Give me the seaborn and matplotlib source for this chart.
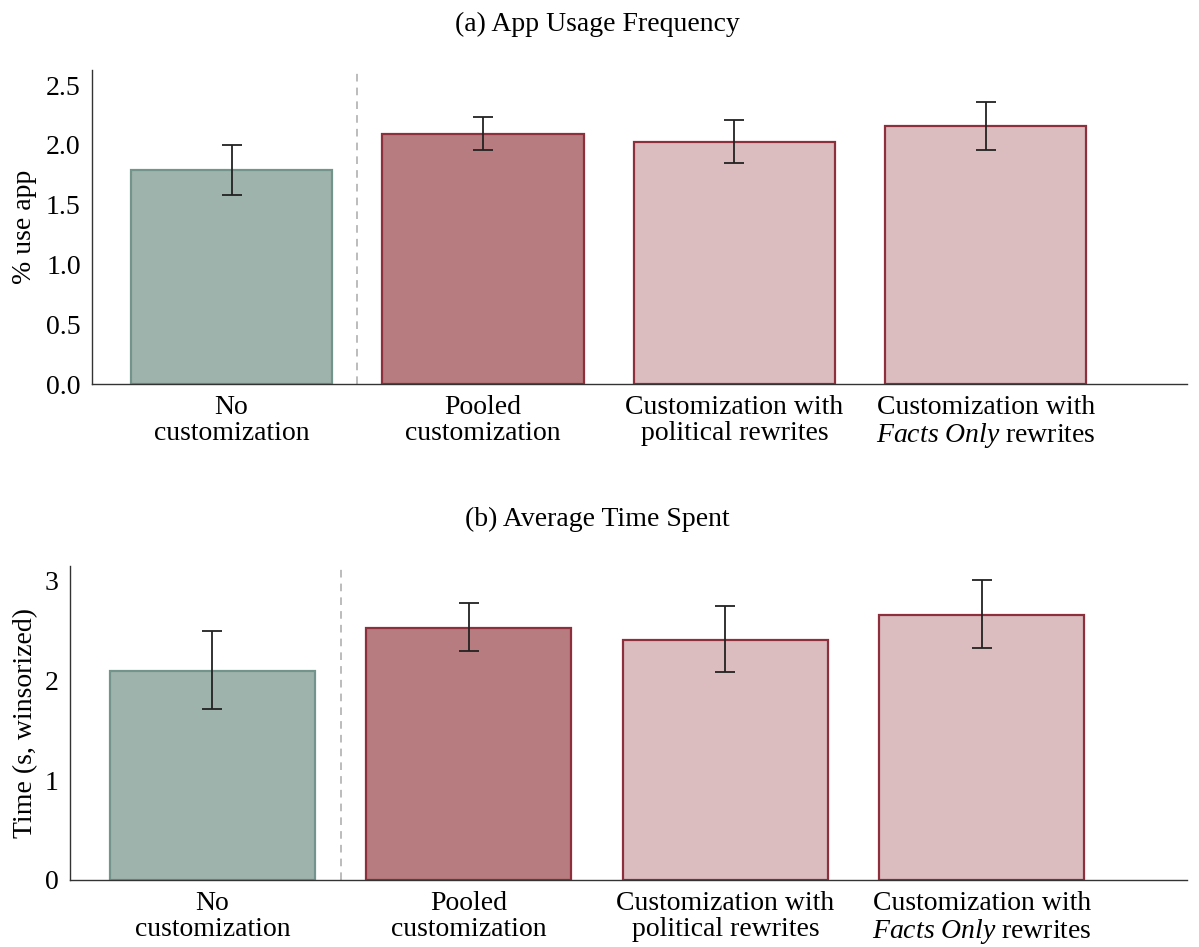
import numpy as np
import pandas as pd
import matplotlib
matplotlib.use("Agg")
import matplotlib.pyplot as plt
import seaborn as sns

# ---- data ----
groups = ["No\ncustomization",
          "Pooled\ncustomization",
          "Customization with\npolitical rewrites",
          "Customization with\n$\\it{Facts\\ Only}$ rewrites"]

usage_mean = [1.79, 2.09, 2.02, 2.16]
usage_lo = [1.58, 1.96, 1.85, 1.96]
usage_hi = [2.00, 2.23, 2.21, 2.36]

time_mean = [2.10, 2.53, 2.41, 2.66]
time_lo = [1.72, 2.30, 2.09, 2.33]
time_hi = [2.50, 2.78, 2.75, 3.01]

fills = ["#9EB3AC", "#B77C7F", "#DBBDC0", "#DBBDC0"]
edges = ["#72948A", "#8E2F3C", "#8E2F3C", "#8E2F3C"]

sns.set_theme(style="white")
plt.rcParams["font.family"] = ["Liberation Serif", "DejaVu Serif"]
plt.rcParams["mathtext.fontset"] = "custom"
plt.rcParams["mathtext.rm"] = "Liberation Serif"
plt.rcParams["mathtext.it"] = "Liberation Serif:italic"
for k in ["text.color", "axes.labelcolor", "xtick.color", "ytick.color"]:
    plt.rcParams[k] = "black"

fig = plt.figure(figsize=(11.99, 9.47), dpi=100)
ax_a = fig.add_axes([0.0767, 0.5945, 0.9133, 0.3315])
ax_b = fig.add_axes([0.0584, 0.0708, 0.9316, 0.3315])


def panel(ax, mean, lo, hi, ylabel, ylim, yticks, fmt):
    df = pd.DataFrame({"group": groups, "value": mean})
    sns.barplot(data=df, x="group", y="value", hue="group", palette=fills,
                legend=False, width=0.8, ax=ax, errorbar=None, saturation=1)
    for patch, ec in zip(ax.patches, edges):
        patch.set_edgecolor(ec)
        patch.set_linewidth(1.6)
    x = np.arange(len(groups))
    m = np.array(mean)
    ax.errorbar(x, m, yerr=[m - np.array(lo), np.array(hi) - m], fmt="none",
                ecolor="#222222", elinewidth=1.3, capsize=7.2, capthick=1.3)
    ax.axvline(0.5, color="#AAAAAA", linestyle=(0, (5, 4)), linewidth=1.1)
    ax.set_xlim(-0.555, 3.8)
    ax.set_ylim(*ylim)
    ax.set_yticks(yticks)
    ax.set_yticklabels([fmt.format(t) for t in yticks], fontsize=20)
    ax.set_xticks(x)
    ax.set_xticklabels(groups, fontsize=20, linespacing=1.05)
    ax.set_xlabel("")
    ax.set_ylabel(ylabel, fontsize=20)
    ax.tick_params(axis="both", length=0, pad=8)
    sns.despine(ax=ax)
    for s in ["left", "bottom"]:
        ax.spines[s].set_color("#333333")
        ax.spines[s].set_linewidth(1.0)


panel(ax_a, usage_mean, usage_lo, usage_hi, "% use app", (0, 2.625),
      [0, 0.5, 1.0, 1.5, 2.0, 2.5], "{:.1f}")
panel(ax_b, time_mean, time_lo, time_hi, "Time (s, winsorized)", (0, 3.15),
      [0, 1, 2, 3], "{:d}")

ax_a.yaxis.set_label_coords(-0.05, 0.5)
ax_b.yaxis.set_label_coords(-0.029, 0.5)

fig.text(0.498, 0.974, "(a) App Usage Frequency", ha="center", va="center",
         fontsize=20)
fig.text(0.498, 0.451, "(b) Average Time Spent", ha="center", va="center",
         fontsize=20)

fig.savefig("out.png", dpi=100)
